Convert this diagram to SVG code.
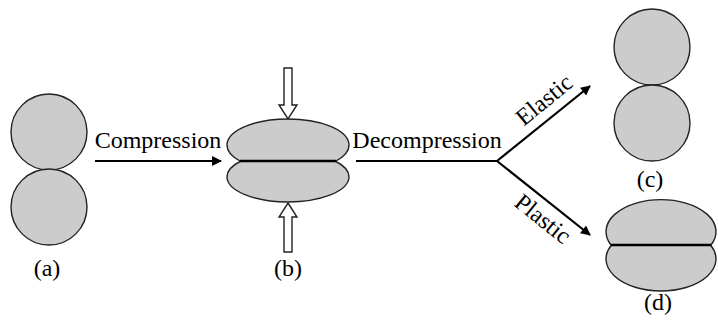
<svg xmlns="http://www.w3.org/2000/svg" width="718" height="327" viewBox="0 0 718 327">
<style>
.ball{fill:#cccccc;stroke:#222;stroke-width:1.4}
.lbl{font-family:"Liberation Serif","Times New Roman",serif;font-size:24px;fill:#000}
.conn{stroke:#000;stroke-width:2.2;fill:none}
.hollow{fill:#fff;stroke:#222;stroke-width:1.4}
.mid{stroke:#000;stroke-width:2.4}
</style>
<defs>
<marker id="ah" viewBox="0 0 10 10" refX="9" refY="5" markerWidth="5" markerHeight="4.5" orient="auto" markerUnits="strokeWidth">
<path d="M0,0 L10,5 L0,10 Z" fill="#000"/>
</marker>
</defs>
<rect width="718" height="327" fill="#fff"/>
<g id="a">
<circle class="ball" cx="49" cy="132" r="38"/>
<circle class="ball" cx="49" cy="207" r="38"/>
<text class="lbl" x="47" y="276" text-anchor="middle">(a)</text>
</g>
<g id="b">
<path class="ball" d="M240,161 A61,26 0 1 1 336,161 Z"/>
<path class="ball" d="M241,161 A61,25 0 1 0 335,161 Z"/>
<line class="mid" x1="240" y1="161" x2="336" y2="161"/>
<polygon class="hollow" points="284,68 292,68 292,105 297,105 288,119 279,105 284,105"/>
<polygon class="hollow" points="288,203 297,217 292,217 292,252 284,252 284,217 279,217"/>
<text class="lbl" x="288" y="276" text-anchor="middle">(b)</text>
</g>
<g id="c">
<circle class="ball" cx="652" cy="47" r="38"/>
<circle class="ball" cx="652" cy="123" r="38"/>
<text class="lbl" x="650" y="187" text-anchor="middle">(c)</text>
</g>
<g id="d">
<path class="ball" d="M611,245 A55,32 0 1 1 711,245 Z"/>
<path class="ball" d="M611.5,245 A55,32 0 1 0 710.5,245 Z"/>
<line class="mid" x1="611" y1="245" x2="711" y2="245"/>
<text class="lbl" x="658" y="310" text-anchor="middle">(d)</text>
</g>
<g id="connectors">
<line class="conn" x1="95" y1="161" x2="221" y2="161" marker-end="url(#ah)"/>
<polyline class="conn" points="356,161 498,161"/>
<line class="conn" x1="497" y1="161" x2="590" y2="86" marker-end="url(#ah)"/>
<line class="conn" x1="497" y1="161" x2="590" y2="235" marker-end="url(#ah)"/>
<text class="lbl" x="158" y="148" text-anchor="middle">Compression</text>
<text class="lbl" x="427" y="148" text-anchor="middle">Decompression</text>
<text class="lbl" transform="translate(549,106) rotate(-39.2)" text-anchor="middle">Elastic</text>
<text class="lbl" transform="translate(538,225) rotate(38.8)" text-anchor="middle">Plastic</text>
</g>
</svg>
